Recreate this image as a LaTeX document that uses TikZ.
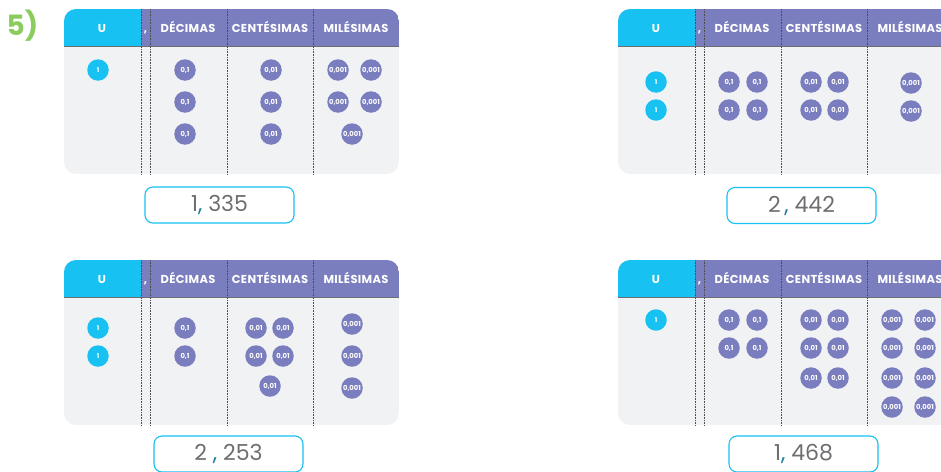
\documentclass[tikz,border=0pt]{standalone}
\usepackage{fontspec}
\setmainfont{Poppins}
\definecolor{cyanc}{HTML}{17C1F2}
\definecolor{purp}{HTML}{7A7DBE}
\definecolor{panel}{HTML}{F1F2F4}
\definecolor{hlinec}{HTML}{6D6E71}
\definecolor{dotc}{HTML}{4D4D4F}
\definecolor{ansgray}{HTML}{6D6E71}
\definecolor{commac}{HTML}{1B7C9A}
\definecolor{greenc}{HTML}{8CCB5E}
\tikzset{
  hdr/.style={anchor=base, text=white, inner sep=0pt, font=\bfseries\fontsize{11.5}{13}\selectfont\addfontfeatures{LetterSpace=3}},
  dotline/.style={dotc, line width=0.6pt, dash pattern=on 0.8pt off 0.8pt},
  ucoin/.style={circle, fill=cyanc, minimum size=21.5pt, inner sep=0pt, text=white, font=\bfseries\fontsize{6.5}{7}\selectfont},
  pcoin/.style={circle, fill=purp, minimum size=21.5pt, inner sep=0pt, text=white, font=\bfseries\fontsize{6.8}{7.5}\selectfont},
  ansbox/.style={draw=cyanc, line width=1.1pt, rounded corners=8pt, fill=white, minimum width=149pt, minimum height=36pt, inner sep=0pt, text=ansgray, font=\fontsize{22}{26}\selectfont},
}
\newcommand\placetable[3]{%
\begin{scope}[shift={(#2,#3)}]
  \begin{scope}
    \clip[rounded corners=12pt] (0,0) rectangle (335,165);
    \fill[panel] (0,0) rectangle (335,165);
    \fill[cyanc] (0,0) rectangle (77,37);
    \fill[purp] (77,0) rectangle (335,37);
  \end{scope}
  \draw[hlinec, line width=1pt] (0,37) -- (335,37);
  \foreach \xx in {77,86,163,249} \draw[dotline] (\xx,0) -- (\xx,166);
  \node[hdr] (#1-hu) at (38,23) {U};
  \node[hdr] (#1-hc) at (81.5,23) {,};
  \node[hdr] (#1-hd) at (124,23) {DÉCIMAS};
  \node[hdr] (#1-hce) at (206,23) {CENTÉSIMAS};
  \node[hdr] (#1-hm) at (292,23) {MILÉSIMAS};
\end{scope}}
\newcommand\anstext[2]{#1\textcolor{commac}{,}#2}
\begin{document}
\begin{tikzpicture}[x=1pt,y=-1pt]
\useasboundingbox (0,0) rectangle (941,471);
\clip (0,0) rectangle (941,471);

\node[text=greenc, font=\bfseries\fontsize{28}{32}\selectfont, inner sep=0pt] (lbl) at (22.5,25.5) {5)};

% Table A
\placetable{a}{64}{9}
\node[ucoin] (a-u1) at (98,70) {1};
\foreach \x/\y [count=\i] in {185/70,185/102,185/134} \node[pcoin] (a-d\i) at (\x,\y) {0,1};
\foreach \x/\y [count=\i] in {271/70,271/102,271/134} \node[pcoin] (a-c\i) at (\x,\y) {0,01};
\foreach \x/\y [count=\i] in {338/70,371/70,338/102,371/102,352/134} \node[pcoin] (a-m\i) at (\x,\y) {0,001};
\node[ansbox] (a-ans) at (219.5,205) {\anstext{1}{ 335}};

% Table B
\placetable{b}{618}{9}
\foreach \x/\y [count=\i] in {656/82,656/110} \node[ucoin] (b-u\i) at (\x,\y) {1};
\foreach \x/\y [count=\i] in {729/82,757/82,729/110,757/110} \node[pcoin] (b-d\i) at (\x,\y) {0,1};
\foreach \x/\y [count=\i] in {811/82,838/82,811/110,838/110} \node[pcoin] (b-c\i) at (\x,\y) {0,01};
\foreach \x/\y [count=\i] in {911/83,911/111} \node[pcoin] (b-m\i) at (\x,\y) {0,001};
\node[ansbox] (b-ans) at (801.5,205.5) {\anstext{2\,}{ 442}};

% Table C
\placetable{c}{64}{260}
\foreach \x/\y [count=\i] in {98/328,98/356} \node[ucoin] (c-u\i) at (\x,\y) {1};
\foreach \x/\y [count=\i] in {185/328,185/356} \node[pcoin] (c-d\i) at (\x,\y) {0,1};
\foreach \x/\y [count=\i] in {256/328,283/328,256/356,283/356,270/386} \node[pcoin] (c-c\i) at (\x,\y) {0,01};
\foreach \x/\y [count=\i] in {352/324,352/356,352/388} \node[pcoin] (c-m\i) at (\x,\y) {0,001};
\node[ansbox] (c-ans) at (228.5,454) {\anstext{2 }{ 253}};

% Table D
\placetable{d}{618}{260}
\node[ucoin] (d-u1) at (656,320) {1};
\foreach \x/\y [count=\i] in {729/320,757/320,729/348,757/348} \node[pcoin] (d-d\i) at (\x,\y) {0,1};
\foreach \x/\y [count=\i] in {811/320,838/320,811/348,838/348,811/378,838/378} \node[pcoin] (d-c\i) at (\x,\y) {0,01};
\foreach \x/\y [count=\i] in {892/320,925/320,892/348,925/348,892/378,925/378,892/407,925/407} \node[pcoin] (d-m\i) at (\x,\y) {0,001};
\node[ansbox] (d-ans) at (803.5,454) {\anstext{1}{ 468}};
\end{tikzpicture}
\end{document}
